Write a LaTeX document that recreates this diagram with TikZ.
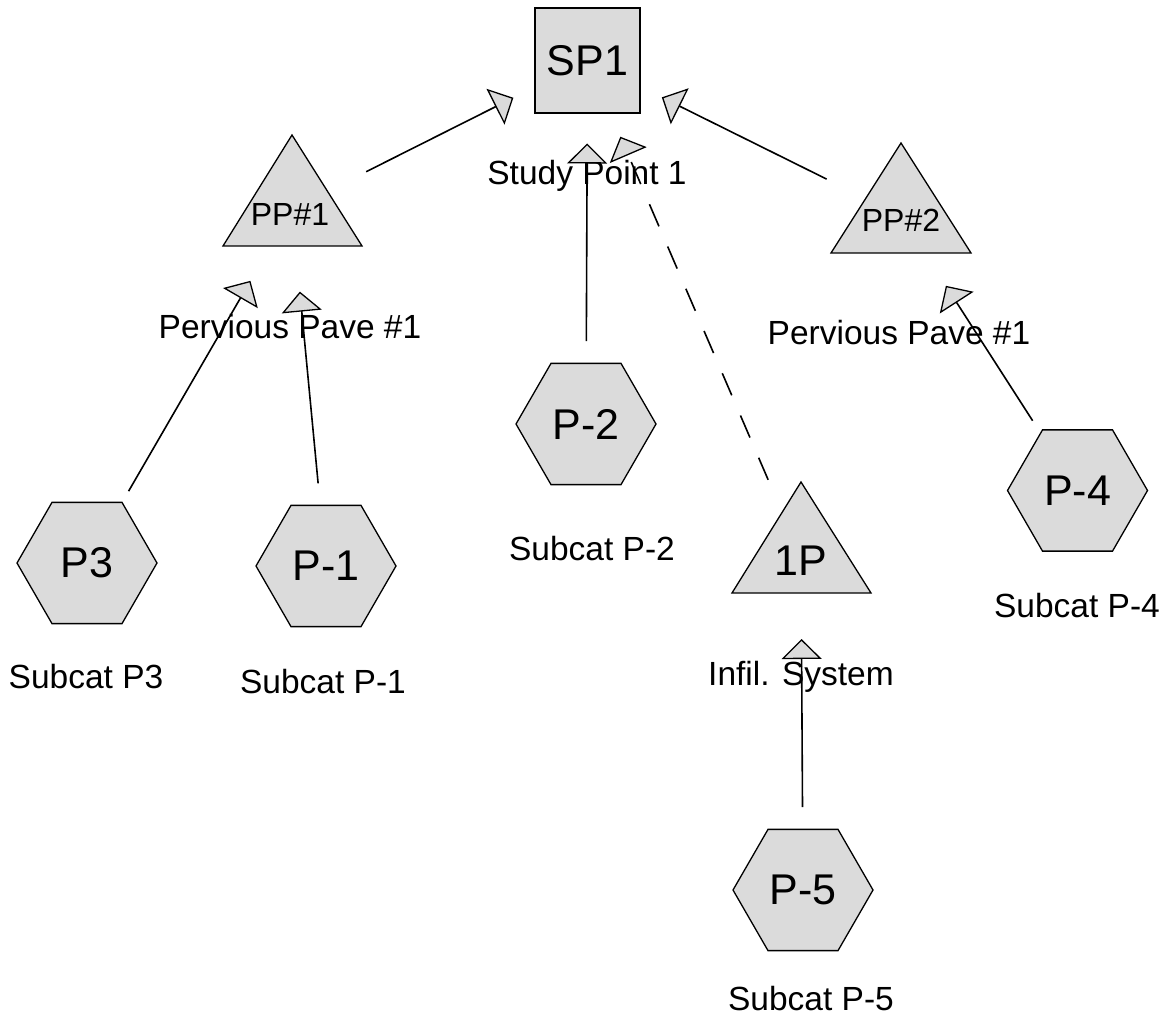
\documentclass[tikz,border=0pt]{standalone}
\usepackage{fontspec}
\setmainfont{Liberation Sans}
\usetikzlibrary{arrows.meta,shapes.geometric}
\definecolor{shp}{gray}{0.86}
\begin{document}
\begin{tikzpicture}[x=1pt,y=-1pt,
  shapeline/.style={draw=black,fill=shp,line width=1.3pt},
  bigtxt/.style={font=\fontsize{43}{50}\selectfont},
  midtxt/.style={font=\fontsize{32}{38}\selectfont},
  lbl/.style={font=\fontsize{33.5}{40}\selectfont,anchor=base,inner sep=0pt},
  hexnode/.style={shapeline,bigtxt,regular polygon,regular polygon sides=6,minimum size=140pt,inner sep=0pt},
  sqnode/.style={shapeline,bigtxt,rectangle,minimum size=105pt,inner sep=0pt},
  trilbl/.style={anchor=base,inner sep=0pt},
  link/.style={line width=1.6pt,shorten <=83pt,shorten >=83pt,
    -{Triangle[width=40pt,length=20pt,fill=shp,line width=1.3pt]}},
  dlink/.style={link,dash pattern=on 24pt off 22pt}
]
\useasboundingbox (0,0) rectangle (1172,1024);

% reach / study point
\node[sqnode] (SP1) at (587.5,60.5) {SP1};
\node[lbl] (SP1l) at (587,185) {Study Point 1};

% ponds (triangles)
\coordinate (PP1) at (292,209);
\filldraw[shapeline] (292,135) -- (223,246) -- (362,246) -- cycle;
\node[trilbl,midtxt] (PP1t) at (290,226) {PP\#1};
\node[lbl] (PP1l) at (290,338) {Pervious Pave \#1};

\coordinate (PP2) at (901,216);
\filldraw[shapeline] (901,143) -- (831,253) -- (971,253) -- cycle;
\node[trilbl,midtxt] (PP2t) at (901,232) {PP\#2};
\node[lbl] (PP2l) at (899,344) {Pervious Pave \#1};

\coordinate (IP) at (801,556);
\filldraw[shapeline] (801,482) -- (732,593) -- (871,593) -- cycle;
\node[trilbl,bigtxt] (IPt) at (801,575) {1P};
\node[lbl] (IPl) at (801,685) {Infil. System};

% subcatchments (hexagons)
\node[hexnode] (P3) at (87,563) {P3};
\node[lbl] (P3l) at (86,688) {Subcat P3};

\node[hexnode] (P1) at (326,566) {P-1};
\node[lbl] (P1l) at (323,693) {Subcat P-1};

\node[hexnode] (P2) at (586,424) {P-2};
\node[lbl] (P2l) at (592,560) {Subcat P-2};

\node[hexnode] (P4) at (1077.5,490.5) {P-4};
\node[lbl] (P4l) at (1077,617) {Subcat P-4};

\node[hexnode] (P5) at (803,890) {P-5};
\node[lbl] (P5l) at (811,1010) {Subcat P-5};

% links
\draw[link] (PP1) -- (SP1.center);
\draw[link] (PP2) -- (SP1.center);
\draw[link] (P2.center) -- (SP1.center);
\draw[dlink] (IP) -- (SP1.center);
\draw[link] (P3.center) -- (PP1);
\draw[link] (P1.center) -- (PP1);
\draw[link] (P4.center) -- (PP2);
\draw[link] (P5.center) -- (IP);
\end{tikzpicture}
\end{document}
